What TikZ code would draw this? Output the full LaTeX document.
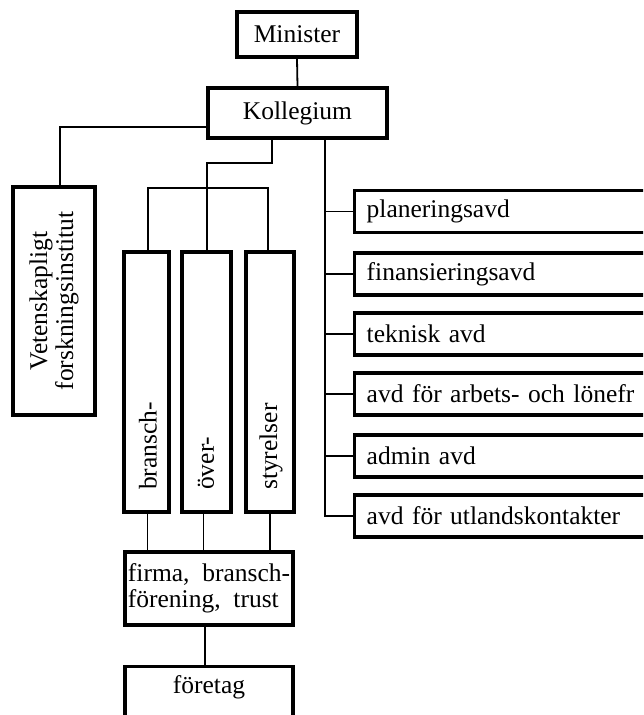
\documentclass[tikz,border=0pt]{standalone}
\usepackage{fontspec}
\setmainfont[WordSpace=2.0]{Liberation Serif}
\begin{document}
\begin{tikzpicture}[x=1pt,y=-1pt,
  box/.style={draw=black, line width=3.4pt, fill=white, inner sep=0pt, align=center,
    font=\fontsize{25.5}{26}\selectfont},
  lbl/.style={inner sep=0pt, font=\fontsize{25.5}{26}\selectfont},
  rbox/.style={draw=black, line width=3.4pt, fill=white, anchor=west, minimum height=42pt,
    inner xsep=12pt, inner ysep=0pt, text width=296pt, align=left,
    font=\fontsize{25.5}{26}\selectfont},
  conn/.style={draw=black, line width=1.8pt}]
\useasboundingbox (0,0) rectangle (643,715);
\clip (0,0) rectangle (643,715);
\fill[white] (0,0) rectangle (643,715);

% top
\node[box, minimum width=120pt, minimum height=45pt] (min) at (297,34.5) {Minister};
\node[box, minimum width=179pt, minimum height=50pt] (kol) at (297.5,113) {Kollegium};

% research institute
\node[box, rotate=90, minimum width=228pt, minimum height=82pt] (vet) at (54,301)
  {Vetenskapligt\\forskningsinstitut};

% three vertical boards
\node[box, minimum width=45pt, minimum height=260pt] (bra) at (146.5,382) {};
\node[box, minimum width=49pt, minimum height=260pt] (ove) at (206.5,382) {};
\node[box, minimum width=48pt, minimum height=260pt] (sty) at (270,382) {};
\node[lbl, rotate=90, anchor=west] (tbra) at (148,490) {bransch-};
\node[lbl, rotate=90, anchor=west] (tove) at (206,490) {över-};
\node[lbl, rotate=90, anchor=west] (tsty) at (271,490) {styrelser};

% bottom
\node[box, minimum width=168pt, minimum height=73pt, align=left] (fir) at (209,588.5)
  {firma, bransch-\\förening, trust};
\node[box, minimum width=168pt, minimum height=60pt, anchor=north] (fot) at (209,665) {};
\node[lbl] (tfot) at (209,687) {företag};

% right departments
\node[rbox] (d1) at (353,211.5) {planeringsavd};
\node[rbox] (d2) at (353,274) {finansieringsavd};
\node[rbox] (d3) at (353,334) {teknisk avd};
\node[rbox] (d4) at (353,394) {avd för arbets- och lönefr};
\node[rbox] (d5) at (353,456) {admin avd};
\node[rbox] (d6) at (353,516) {avd för utlandskontakter};

% connector helper points
\coordinate (k1) at (272,138);
\coordinate (m1) at (272,163);
\coordinate (m2) at (207,163);
\coordinate (hb) at (148,188);
\coordinate (hs) at (268,188);
\coordinate (v1) at (60,127);
\coordinate (k2) at (325,138);

% connectors
\draw[conn] (min.south) -- (kol.north);
\draw[conn] (kol.west |- v1) -- (v1) -- (v1 |- vet.east);
\draw[conn] (k1) -- (m1) -- (m2) -- (m2 |- ove.north);
\draw[conn] (hb |- bra.north) -- (hb) -- (hs) -- (hs |- sty.north);
\draw[conn] (k2) |- (d6.west);
\foreach \d in {d1,d2,d3,d4,d5} \draw[conn] (k2 |- \d.west) -- (\d.west);

\draw[conn] ([xshift=1pt]bra.south) -- ([xshift=1pt]bra.south |- fir.north);
\draw[conn] ([xshift=-3pt]ove.south) -- ([xshift=-3pt]ove.south |- fir.north);
\draw[conn] ([xshift=0pt]sty.south) -- ([xshift=0pt]sty.south |- fir.north);
\draw[conn] ([xshift=-4pt]fir.south) -- ([xshift=-4pt]fot.north);
\end{tikzpicture}
\end{document}
